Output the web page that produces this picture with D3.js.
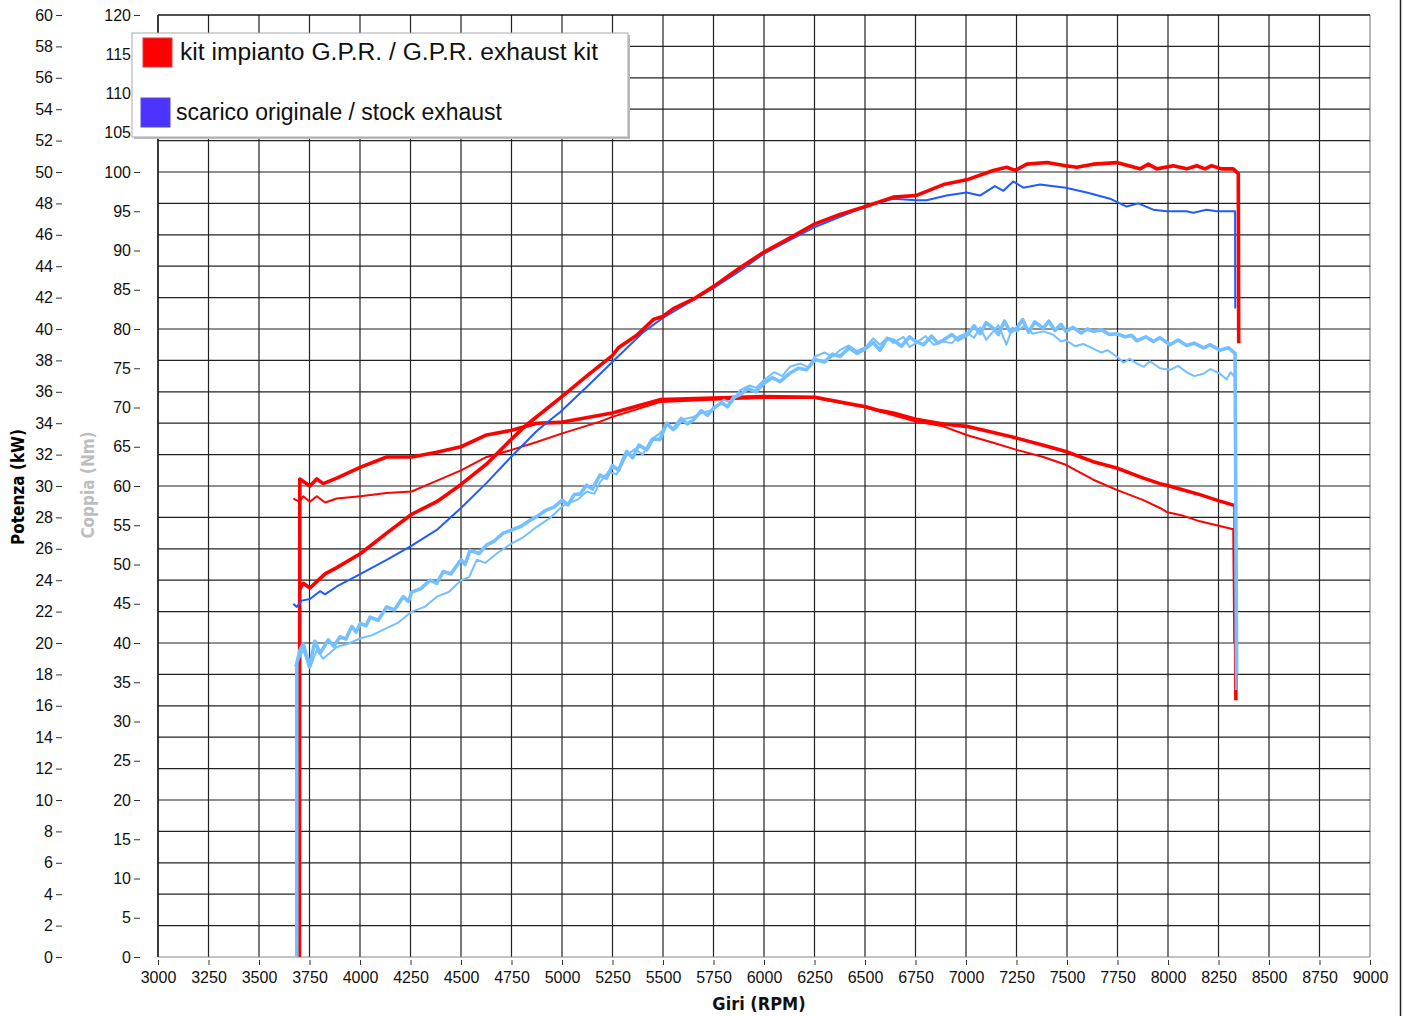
<!DOCTYPE html>
<html>
<head>
<meta charset="utf-8">
<script src="https://cdn.jsdelivr.net/npm/d3@7"></script>
<style>
  body { margin: 0; background: #fff; }
  svg { display: block; font-family: "Liberation Sans Narrow", "DejaVu Sans Condensed", sans-serif; }
  .tick text { font-size: 16px; fill: #111; }
</style>
</head>
<body>
<svg id="chart" width="1404" height="1016"></svg>
<script>
// rpm / value pairs
let gprPower = [[3700,23.4],[3719,23.8],[3752,23.5],[3802,24.1],[3827,24.4],[3885,24.8],[4003,25.7],[4132,27.0],[4256,28.2],[4380,29.0],[4500,30.1],[4627,31.4],[4751,33.0],[4825,33.9],[4990,35.6],[5122,37.0],[5249,38.3],[5279,38.8],[5370,39.6],[5452,40.6],[5499,40.8],[5551,41.3],[5650,41.9],[5749,42.7],[5881,43.9],[6000,44.9],[6129,45.8],[6252,46.7],[6376,47.3],[6503,47.8],[6640,48.4],[6752,48.5],[6888,49.2],[7003,49.5],[7135,50.1],[7201,50.3],[7243,50.1],[7301,50.5],[7400,50.6],[7494,50.4],[7548,50.3],[7630,50.5],[7746,50.6],[7861,50.2],[7903,50.5],[7944,50.2],[8026,50.4],[8092,50.2],[8142,50.4],[8183,50.2],[8216,50.4],[8266,50.2],[8323,50.2],[8348,49.9],[8350,39.1]];

let stockPower = [[3670,22.5],[3687,22.3],[3711,22.7],[3752,22.8],[3802,23.3],[3827,23.1],[3885,23.6],[4003,24.4],[4132,25.3],[4256,26.2],[4380,27.2],[4500,28.6],[4627,30.2],[4751,31.9],[4875,33.5],[4941,34.2],[4990,34.7],[5122,36.3],[5249,37.9],[5403,39.8],[5499,40.7],[5749,42.6],[5881,43.7],[6000,44.8],[6252,46.5],[6503,47.8],[6640,48.3],[6752,48.2],[6805,48.2],[6904,48.5],[7003,48.7],[7069,48.5],[7143,49.1],[7185,48.8],[7234,49.4],[7284,49.0],[7366,49.2],[7494,49.0],[7598,48.7],[7713,48.3],[7795,47.8],[7853,48.0],[7927,47.6],[7993,47.5],[8092,47.5],[8125,47.4],[8191,47.6],[8241,47.5],[8332,47.5],[8333,41.3]];

let gprTorque = [[3700,0],[3702,60.9],[3752,60.0],[3786,60.9],[3818,60.3],[3885,61.0],[4003,62.4],[4132,63.7],[4256,63.7],[4380,64.3],[4500,65.0],[4627,66.5],[4751,67.1],[4875,68.0],[4990,68.1],[5249,69.3],[5485,71.0],[5749,71.2],[6000,71.4],[6252,71.3],[6503,70.1],[6574,69.6],[6640,69.3],[6752,68.5],[6888,67.9],[7003,67.6],[7135,66.8],[7251,66.1],[7383,65.2],[7494,64.4],[7630,63.1],[7746,62.3],[7878,61.0],[7960,60.3],[7993,60.1],[8076,59.5],[8158,58.9],[8241,58.2],[8332,57.5],[8336,32.7]];

let stockTorque = [[3670,58.4],[3700,58.0],[3719,58.7],[3752,58.0],[3786,58.7],[3827,57.9],[3885,58.4],[4003,58.7],[4132,59.1],[4256,59.3],[4347,60.3],[4500,62.0],[4627,63.7],[4751,64.6],[4875,65.6],[5001,66.7],[5188,68.2],[5249,68.8],[5485,70.7],[5749,71.0],[6000,71.2],[6252,71.2],[6503,70.0],[6752,68.2],[6888,67.6],[7003,66.5],[7135,65.5],[7251,64.6],[7383,63.7],[7494,62.7],[7630,60.8],[7746,59.5],[7878,58.2],[7960,57.2],[7993,56.7],[8076,56.2],[8158,55.5],[8241,55.0],[8323,54.5],[8328,40.0]];

let gprAux = [[3687,0],[3687,37.4],[3703,39.1],[3719,39.9],[3749,37.0],[3777,40.2],[3802,38.7],[3843,40.4],[3870,39.6],[3901,40.8],[3930,40.5],[3959,42.1],[3980,41.4],[4003,42.5],[4030,42.2],[4050,43.3],[4090,42.9],[4132,44.6],[4170,44.2],[4214,45.9],[4240,45.3],[4256,46.5],[4300,46.9],[4347,48.0],[4380,47.6],[4412,49.1],[4450,48.8],[4500,50.6],[4520,50.0],[4545,51.8],[4590,51.4],[4627,52.5],[4660,52.9],[4709,54.0],[4751,54.4],[4800,54.9],[4840,55.6],[4875,56.1],[4920,56.9],[4960,57.3],[5001,58.2],[5030,57.6],[5060,58.9],[5090,59.0],[5122,60.1],[5150,59.6],[5188,61.4],[5220,61.0],[5250,62.6],[5280,62.0],[5320,64.4],[5350,63.6],[5380,65.2],[5420,64.6],[5450,66.0],[5485,65.9],[5518,68.0],[5550,67.2],[5590,68.6],[5620,67.9],[5650,68.4],[5690,69.6],[5720,69.0],[5749,69.9],[5790,70.6],[5820,70.1],[5850,71.3],[5881,71.6],[5920,72.4],[5960,72.0],[6000,73.1],[6040,73.8],[6080,73.3],[6129,74.4],[6170,75.0],[6210,74.8],[6252,76.1],[6300,75.8],[6340,76.8],[6376,76.5],[6420,77.6],[6460,76.9],[6503,77.5],[6540,78.3],[6574,77.3],[6610,78.8],[6640,78.6],[6680,77.8],[6720,79.0],[6752,78.4],[6790,78.0],[6830,79.1],[6860,78.2],[6888,78.6],[6930,79.3],[6960,78.6],[7003,79.2],[7040,80.4],[7070,79.4],[7100,80.8],[7135,80.1],[7160,79.3],[7190,81.0],[7220,79.6],[7251,80.1],[7280,81.2],[7310,79.6],[7340,80.9],[7383,80.1],[7410,81.0],[7440,79.8],[7470,80.6],[7494,79.7],[7530,80.2],[7570,79.5],[7600,80.0],[7630,79.7],[7670,79.9],[7710,79.3],[7746,79.4],[7790,79.0],[7820,79.2],[7845,78.5],[7890,79.0],[7927,78.4],[7960,78.9],[8010,78.0],[8050,78.6],[8092,77.9],[8130,78.2],[8175,77.6],[8210,78.0],[8257,77.3],[8300,77.6],[8332,76.9],[8340,36.0]];

let stockAux = [[3678,37.0],[3719,39.1],[3752,36.8],[3786,39.1],[3818,38.0],[3885,39.5],[3940,39.9],[4003,40.6],[4060,41.0],[4132,41.9],[4190,42.6],[4256,44.0],[4320,44.6],[4380,45.9],[4440,46.5],[4500,48.0],[4540,48.4],[4578,50.6],[4620,50.2],[4677,51.4],[4751,52.7],[4810,53.5],[4875,54.8],[4940,55.9],[5001,57.4],[5040,57.9],[5080,58.3],[5122,59.3],[5160,59.0],[5188,60.5],[5230,61.8],[5270,61.5],[5320,63.9],[5360,64.7],[5400,64.0],[5440,65.9],[5485,66.7],[5520,67.8],[5560,67.2],[5600,68.5],[5650,68.8],[5700,69.4],[5749,69.7],[5800,71.0],[5840,70.6],[5881,72.2],[5930,72.8],[5960,72.5],[6000,73.5],[6050,74.5],[6090,74.0],[6129,75.2],[6180,75.6],[6220,75.1],[6252,76.5],[6300,77.0],[6340,76.5],[6376,77.3],[6420,77.9],[6460,77.2],[6503,77.7],[6540,78.8],[6574,78.0],[6610,78.9],[6640,78.2],[6690,79.0],[6720,77.7],[6752,78.2],[6800,79.1],[6840,78.0],[6888,78.4],[6930,78.2],[6960,79.0],[7003,79.5],[7040,78.9],[7070,80.2],[7100,78.6],[7135,79.7],[7160,80.5],[7200,78.0],[7230,80.2],[7251,79.7],[7290,80.4],[7330,79.4],[7383,79.7],[7430,79.3],[7470,78.4],[7494,78.6],[7540,77.8],[7580,78.1],[7630,77.5],[7670,77.0],[7700,77.3],[7746,76.5],[7780,75.7],[7810,76.2],[7845,75.6],[7880,75.2],[7910,75.9],[7927,75.6],[7960,75.0],[8010,74.8],[8050,75.3],[8092,74.5],[8130,74.0],[8175,74.3],[8210,74.9],[8257,74.3],[8290,73.6],[8310,74.5],[8332,73.8],[8336,34.0]];

let legendLabels = ["kit impianto G.P.R. / G.P.R. exhaust kit", "scarico originale / stock exhaust"];
let legendColors = ["#ff0000", "#4d33ff"];

let svg = d3.select("#chart");

let x = d3.scaleLinear().domain([3000, 9000]).range([158, 1370]);
let yKw = d3.scaleLinear().domain([0, 60]).range([957, 15]);
let yNm = d3.scaleLinear().domain([0, 120]).range([957, 15]);

// grid
let grid = svg.append("g");
grid.selectAll(".vg")
  .data(d3.range(3000, 9001, 250))
  .enter()
  .append("line")
  .attr("x1", (d) => x(d)).attr("x2", (d) => x(d))
  .attr("y1", 15).attr("y2", 957)
  .attr("stroke", (d, i) => (i === 24 ? "#888" : "#222"))
  .attr("stroke-width", 1.2);
grid.selectAll(".hg")
  .data(d3.range(0, 61, 2))
  .enter()
  .append("line")
  .attr("x1", 158).attr("x2", 1370)
  .attr("y1", (d) => yKw(d)).attr("y2", (d) => yKw(d))
  .attr("stroke", (d) => (d === 0 ? "#888" : "#222"))
  .attr("stroke-width", 1.2);

// axes
let kwAxis = svg.append("g")
  .attr("transform", "translate(62,0)")
  .call(d3.axisLeft(yKw).tickValues(d3.range(0, 61, 2)).tickSize(6).tickPadding(3));
let nmAxis = svg.append("g")
  .attr("transform", "translate(140,0)")
  .call(d3.axisLeft(yNm).tickValues(d3.range(0, 121, 5)).tickSize(6).tickPadding(3));
let rpmAxis = svg.append("g")
  .attr("transform", "translate(0,960)")
  .call(d3.axisBottom(x).tickValues(d3.range(3000, 9001, 250)).tickSize(5).tickPadding(7).tickFormat(d3.format("d")));
[kwAxis, nmAxis, rpmAxis].forEach((a) => {
  a.select(".domain").remove();
  a.selectAll(".tick line").attr("stroke", "#333");
  a.selectAll(".tick text").style("font-size", "16px").attr("fill", "#111");
});

// axis titles
svg.append("text")
  .attr("transform", "translate(24,487) rotate(-90)")
  .attr("text-anchor", "middle")
  .style("font-size", "17px").style("font-weight", "bold")
  .attr("fill", "#000")
  .text("Potenza (kW)");
svg.append("text")
  .attr("transform", "translate(94,485) rotate(-90)")
  .attr("text-anchor", "middle")
  .style("font-size", "17px").style("font-weight", "bold")
  .attr("fill", "#bdbdbd")
  .text("Coppia (Nm)");
svg.append("text")
  .attr("x", 759).attr("y", 1010)
  .attr("text-anchor", "middle")
  .style("font-size", "18px").style("font-weight", "bold")
  .attr("fill", "#111")
  .text("Giri (RPM)");

// curves
let kwLine = d3.line().x((d) => x(d[0])).y((d) => yKw(d[1]));
let nmLine = d3.line().x((d) => x(d[0])).y((d) => yNm(d[1]));

let curves = [
  { data: stockTorque, line: nmLine, color: "#ff0000", width: 2 },
  { data: gprTorque, line: nmLine, color: "#ff0000", width: 3.6 },
  { data: stockPower, line: kwLine, color: "#1f5bff", width: 2 },
  { data: gprPower, line: kwLine, color: "#ff0000", width: 3.6 },
  { data: stockAux, line: nmLine, color: "#73bfff", width: 2 },
  { data: gprAux, line: nmLine, color: "#73bfff", width: 3.6 }
];
svg.append("g")
  .selectAll("path")
  .data(curves)
  .enter()
  .append("path")
  .attr("d", (c) => c.line(c.data))
  .attr("fill", "none")
  .attr("stroke", (c) => c.color)
  .attr("stroke-width", (c) => c.width)
  .attr("stroke-linejoin", "round");

// plot frame
svg.append("line").attr("x1", 158).attr("x2", 1370).attr("y1", 15).attr("y2", 15).attr("stroke", "#111").attr("stroke-width", 1.2);
svg.append("line").attr("x1", 158).attr("x2", 158).attr("y1", 15).attr("y2", 957).attr("stroke", "#111").attr("stroke-width", 1.2);
svg.append("line").attr("x1", 1400.5).attr("x2", 1400.5).attr("y1", 0).attr("y2", 1016).attr("stroke", "#222").attr("stroke-width", 1.5);

// legend
let legend = svg.append("g");
legend.append("rect")
  .attr("x", 134).attr("y", 35).attr("width", 496).attr("height", 104)
  .attr("fill", "#bbb");
legend.append("rect")
  .attr("x", 132).attr("y", 33).attr("width", 496).attr("height", 104)
  .attr("fill", "#fff").attr("stroke", "#aaa").attr("stroke-width", 1);
legend.selectAll(".sw")
  .data(legendColors)
  .enter()
  .append("rect")
  .attr("x", (d, i) => (i === 0 ? 143 : 141))
  .attr("y", (d, i) => (i === 0 ? 38 : 98))
  .attr("width", 29).attr("height", 29)
  .attr("fill", (d) => d)
  .attr("stroke", (d, i) => (i === 0 ? "#d04040" : "#5a4ad0"))
  .attr("stroke-width", 1);
legend.selectAll(".lt")
  .data(legendLabels)
  .enter()
  .append("text")
  .attr("x", (d, i) => (i === 0 ? 180 : 176))
  .attr("y", (d, i) => (i === 0 ? 60 : 120))
  .attr("textLength", (d, i) => (i === 0 ? 418 : 326))
  .attr("lengthAdjust", "spacingAndGlyphs")
  .style("font-family", "'Liberation Sans', Arial, sans-serif")
  .style("font-size", "23px")
  .attr("fill", "#111")
  .text((d) => d);
</script>
</body>
</html>
